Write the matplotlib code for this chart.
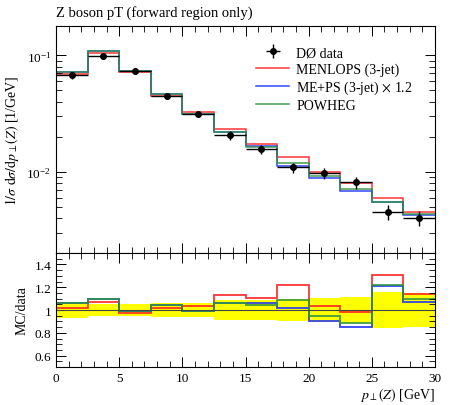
import numpy as np
import matplotlib
matplotlib.use("Agg")
import matplotlib.pyplot as plt
from matplotlib.ticker import MultipleLocator, FuncFormatter, LogLocator

plt.rcParams['font.family'] = ['Liberation Serif', 'DejaVu Serif']
plt.rcParams['mathtext.fontset'] = 'stix'

# binning in pT(Z) [GeV]
edges = np.arange(0, 30.01, 2.5)

# D0 data, 1/sigma dsigma/dpT and relative uncertainty
data = np.array([0.0676, 0.0985, 0.0738, 0.0445, 0.0315, 0.0206,
                 0.0157, 0.0109, 0.00969, 0.00809, 0.00451, 0.00398])
data_relerr = np.array([0.074, 0.053, 0.055, 0.060, 0.065, 0.088,
                        0.090, 0.100, 0.105, 0.115, 0.155, 0.150])

# MC predictions
menlops = np.array([0.0686, 0.1052, 0.0719, 0.0452, 0.0327, 0.0233,
                    0.01736, 0.0133, 0.01003, 0.00797, 0.00589, 0.00454])
meps = np.array([0.0716, 0.1084, 0.0734, 0.0466, 0.0312, 0.0219,
                 0.01663, 0.01110, 0.00875, 0.00685, 0.00547, 0.00427])
powheg = np.array([0.0716, 0.1084, 0.0729, 0.0465, 0.0312, 0.0219,
                   0.01644, 0.01183, 0.00915, 0.00716, 0.00548, 0.00437])

mc_labels = ['MENLOPS (3-jet)', r'ME+PS (3-jet) $\times$ 1.2', 'POWHEG']
mc_colors = ['#ff2020', '#1f2fff', '#2e9440']
mc_values = [menlops, meps, powheg]

W, H = 450, 406
fig = plt.figure(figsize=(W / 100, H / 100), dpi=100)
ax = fig.add_axes([56 / W, 1 - 254 / H, 379 / W, 227.3 / H])
rax = fig.add_axes([56 / W, 1 - 368 / H, 379 / W, 114 / H])

centers = 0.5 * (edges[1:] + edges[:-1])
halfw = 0.5 * np.diff(edges)

for vals, col, lab in zip(mc_values, mc_colors, mc_labels):
    ax.stairs(vals, edges, baseline=None, color=col, lw=1.1, label=lab, alpha=0.9)

ax.errorbar(centers, data, xerr=halfw, yerr=data * data_relerr, fmt='o',
            color='black', ms=4, lw=1.0, capsize=0, label='DØ data', zorder=5)

ax.set_yscale('log')
ax.set_ylim(2.0e-3, 0.18)
ax.set_xlim(0, 30)
ax.set_ylabel(r'$1/\sigma\ \mathrm{d}\sigma/\mathrm{d}p_\perp(Z)$ [1/GeV]', fontsize=10)
ax.set_title('Z boson pT (forward region only)', loc='left', fontsize=10.5, pad=7)

handles, labels = ax.get_legend_handles_labels()
order = [3, 0, 1, 2]
ax.legend([handles[i] for i in order], [labels[i] for i in order],
          loc='upper right', bbox_to_anchor=(0.975, 0.965), frameon=False,
          fontsize=10, handlelength=2.4, handletextpad=0.5, labelspacing=0.22)

# ratio panel
rax.stairs(1 + data_relerr, edges, baseline=1 - data_relerr, fill=True,
           color='#ffff00', lw=0)
rax.axhline(1.0, color='#444444', lw=0.8)
for vals, col in zip(mc_values, mc_colors):
    rax.stairs(vals / data, edges, baseline=None, color=col, lw=1.3, alpha=0.9)

rax.set_xlim(0, 30)
rax.set_ylim(0.5, 1.5)
rax.set_ylabel('MC/data', fontsize=10)
rax.set_xlabel(r'$p_\perp(Z)$ [GeV]', fontsize=10, loc='right', labelpad=1)
rax.set_yticks([0.6, 0.8, 1.0, 1.2, 1.4])
rax.yaxis.set_minor_locator(MultipleLocator(0.05))
rax.yaxis.set_major_formatter(FuncFormatter(lambda v, p: '%g' % round(v, 2)))

for a in (ax, rax):
    a.xaxis.set_major_locator(MultipleLocator(5))
    a.xaxis.set_minor_locator(MultipleLocator(1))
    a.tick_params(which='both', direction='in', top=True, right=True, labelsize=9.5)
    a.tick_params(which='major', length=7, width=0.7)
    a.tick_params(which='minor', length=4, width=0.6)
    for s in a.spines.values():
        s.set_linewidth(0.8)
ax.yaxis.set_minor_locator(LogLocator(base=10, subs=np.arange(2, 10)))
ax.tick_params(labelbottom=False)

fig.align_ylabels([ax, rax])
fig.savefig('out.png', dpi=100)
